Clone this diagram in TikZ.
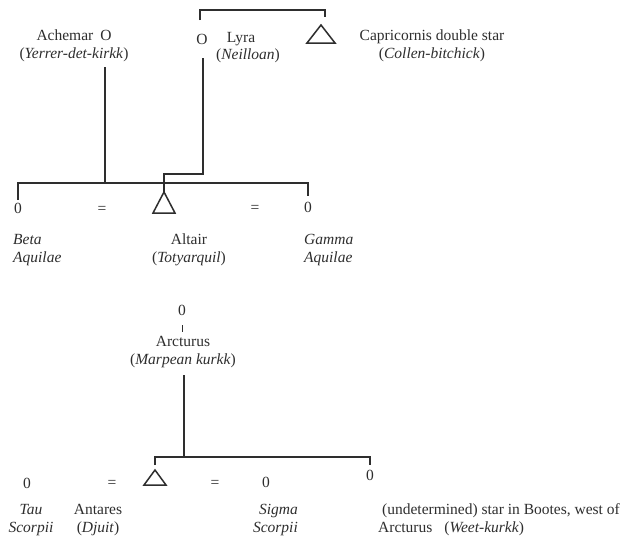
\documentclass[tikz,border=0pt]{standalone}
\usepackage{fontspec}
\setmainfont{Liberation Serif}
\definecolor{ink}{HTML}{2E2E2E}
\begin{document}
\begin{tikzpicture}[x=1pt,y=-1pt,
  txt/.style={inner sep=0pt, text=ink, font=\fontsize{15.5}{17.5}\selectfont},
  ln/.style={draw=ink, line width=1.2pt},
  tri/.style={draw=ink, line width=1.5pt, line join=miter},
]
\useasboundingbox[fill=white] (0,0) rectangle (634,546);

% ---------- top section ----------
\node[txt, align=center] (achemar) at (74,46) {Achemar\hspace{7pt}O\\(\textit{Yerrer-det-kirkk})};
\node[txt] (lyraO) at (202,39) {O};
\node[txt] (lyra) at (241,39) {Lyra};
\node[txt] (neilloan) at (248,56) {(\textit{Neilloan})};
\node[txt, align=center] (capri) at (432,46) {Capricornis double star\\(\textit{Collen-bitchick})};

% Capricornis triangle
\coordinate (capT) at (321,25);
\draw[tri] (capT) -- ++(14,18) -- ++(-28,0) -- cycle;

% bracket joining Lyra and Capricornis
\coordinate (brL) at (200,20);
\coordinate (brR) at (325,17);
\draw[ln] (brL) |- (325,10) -- (brR);

% descent lines
\coordinate (achA) at (105,67);
\coordinate (achB) at (105,183);
\draw[ln] (achA) -- (achB);

\coordinate (lyA) at (203,58);
\coordinate (altT) at (164,192);
\draw[ln] (lyA) -- (203,174) -| (altT);

% sibling bar
\coordinate (betaTop) at (18,200);
\coordinate (gamTop) at (308,196);
\draw[ln] (betaTop) |- (308,183) -- (gamTop);

% row of Aquila
\node[txt] (beta0) at (18,208) {0};
\node[txt] (eq1) at (102,210) {=};
\draw[tri] (altT) -- ++(11,21) -- ++(-22,0) -- cycle;
\node[txt] (eq2) at (255,209) {=};
\node[txt] (gam0) at (308,207) {0};

\node[txt, align=left, anchor=west] (beta) at (13,250) {\textit{Beta}\\\textit{Aquilae}};
\node[txt, align=center] (altair) at (189,250) {Altair\\(\textit{Totyarquil})};
\node[txt, align=left, anchor=west] (gamma) at (304,250) {\textit{Gamma}\\\textit{Aquilae}};

% ---------- Arcturus ----------
\node[txt] (arc0) at (182,310) {0};
\coordinate (tickA) at (182,325);
\coordinate (tickB) at (182,332);
\draw[ln, line width=0.8pt] (tickA) -- (tickB);
\node[txt, align=center] (arc) at (183,352) {Arcturus\\(\textit{Marpean kurkk})};

\coordinate (arcA) at (184,375);
\coordinate (arcB) at (184,457);
\draw[ln] (arcA) -- (arcB);

\coordinate (antT) at (155,470);
\coordinate (weetTop) at (370,465);
\draw[ln] (155,465) |- (370,457) -- (weetTop);

% row of Scorpius
\node[txt] (tau0) at (27,483) {0};
\node[txt] (eq3) at (112,484) {=};
\draw[tri] (antT) -- ++(11,15) -- ++(-22,0) -- cycle;
\node[txt] (eq4) at (215,484) {=};
\node[txt] (sig0) at (266,482) {0};
\node[txt] (weet0) at (370,475) {0};

\node[txt, align=center] (tau) at (31,520) {\textit{Tau}\\\textit{Scorpii}};
\node[txt, align=center] (antares) at (98,520) {Antares\\(\textit{Djuit})};
\node[txt, align=right, anchor=east] (sigma) at (298,520) {\textit{Sigma}\\\textit{Scorpii}};
\node[txt, anchor=west] (und1) at (382,511) {(undetermined) star in Bootes, west of};
\node[txt, anchor=west] (und2) at (378,529) {Arcturus\hspace{12pt}(\textit{Weet-kurkk})};
\end{tikzpicture}
\end{document}
